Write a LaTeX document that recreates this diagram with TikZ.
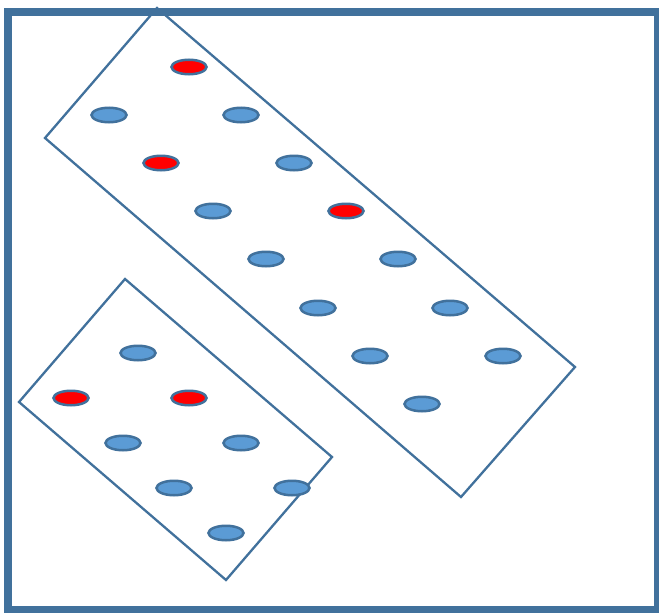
\documentclass[tikz,border=0pt]{standalone}
\usetikzlibrary{shapes.geometric}
\definecolor{frameblue}{HTML}{41719C}
\definecolor{fillblue}{HTML}{5B9BD5}
\tikzset{
  dotblue/.style={ellipse, draw=frameblue, fill=fillblue, line width=2.5pt, minimum width=35pt, minimum height=14.5pt, inner sep=0pt},
  dotred/.style={dotblue, fill=red},
  panel/.style={draw=frameblue, line width=2.3pt, line join=miter},
}
\begin{document}
\begin{tikzpicture}[x=1pt,y=-1pt]
\useasboundingbox (0,0) rectangle (659,613);
\fill[white] (0,0) rectangle (659,613);
\draw[frameblue, line width=7.5pt] (8,12) rectangle (658,610);
% large panel
\coordinate (L1) at (157,8);
\coordinate (L2) at (575,367);
\coordinate (L3) at (461,497);
\coordinate (L4) at (45,138);
\draw[panel] (L1) -- (L2) -- (L3) -- (L4) -- cycle;
% small panel
\coordinate (S1) at (125,279);
\coordinate (S2) at (332,457);
\coordinate (S3) at (226,580);
\coordinate (S4) at (19,402);
\draw[panel] (S1) -- (S2) -- (S3) -- (S4) -- cycle;
% large panel dots
\node[dotred]  (a1) at (189,67) {};
\node[dotblue] (a2) at (109,115) {};
\node[dotblue] (a3) at (241,115) {};
\node[dotred]  (a4) at (161,163) {};
\node[dotblue] (a5) at (294,163) {};
\node[dotblue] (a6) at (213,211) {};
\node[dotred]  (a7) at (346,211) {};
\node[dotblue] (a8) at (266,259) {};
\node[dotblue] (a9) at (398,259) {};
\node[dotblue] (a10) at (318,308) {};
\node[dotblue] (a11) at (450,308) {};
\node[dotblue] (a12) at (370,356) {};
\node[dotblue] (a13) at (503,356) {};
\node[dotblue] (a14) at (422,404) {};
% small panel dots
\node[dotblue] (b1) at (138,353) {};
\node[dotred]  (b2) at (71,398) {};
\node[dotred]  (b3) at (189,398) {};
\node[dotblue] (b4) at (123,443) {};
\node[dotblue] (b5) at (241,443) {};
\node[dotblue] (b6) at (174,488) {};
\node[dotblue] (b7) at (292,488) {};
\node[dotblue] (b8) at (226,533) {};
\end{tikzpicture}
\end{document}
